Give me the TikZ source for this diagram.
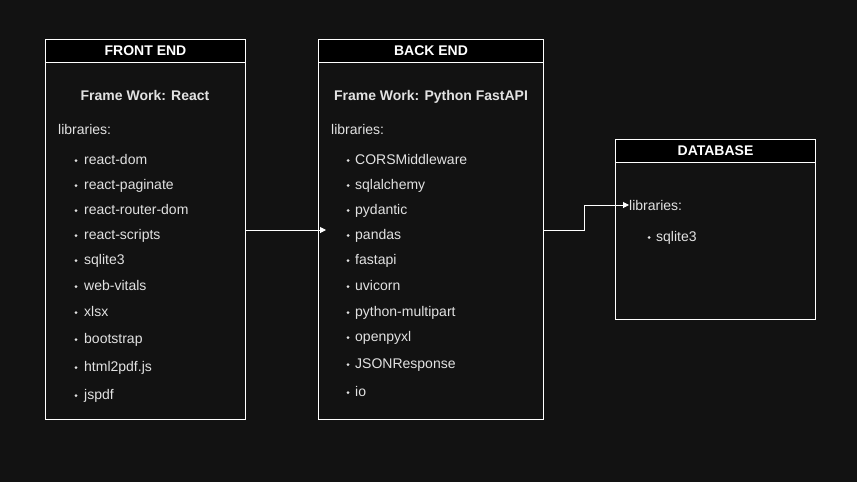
\documentclass[tikz,border=0pt]{standalone}
\usepackage{fontspec}
\setmainfont{Liberation Sans}
\usetikzlibrary{arrows.meta}
\definecolor{bg}{HTML}{121212}
\definecolor{txt}{HTML}{E2E2E2}
\begin{document}
\begin{tikzpicture}[x=1pt,y=-1pt,
  box/.style={draw=white,line width=1pt,fill=bg,inner sep=0,anchor=north west},
  head/.style={draw=white,line width=1pt,fill=black,inner sep=0,anchor=north west,text=white,font=\fontsize{14}{16}\selectfont\bfseries},
  fw/.style={text=txt,font=\fontsize{14}{16}\selectfont\bfseries,text height=11pt,text depth=0pt,inner sep=0},
  lib/.style={text=txt,font=\fontsize{14}{16}\selectfont,anchor=west,inner sep=0,text height=11pt,text depth=0pt},
  item/.style={text=txt,font=\fontsize{14}{16}\selectfont,anchor=west,inner sep=0,text height=11pt,text depth=0pt},
  dot/.style={circle,fill=txt,inner sep=0,minimum size=3pt,yshift=-1.5pt},
  conn/.style={draw=white,line width=1pt,-{Triangle[length=6pt,width=6pt]}}]
\useasboundingbox[fill=bg] (0,0) rectangle (857,482);
% FRONT END
\node[box,minimum width=200,minimum height=380] (fe) at (45,39) {};
\node[head,minimum width=200,minimum height=23] (feh) at (45,39) {FRONT END};
\node[fw] (fefw) at (145,95) {Frame Work: React};
\node[lib] (felib) at (58,129) {libraries:};
\foreach \t/\y [count=\i] in {react-dom/159,react-paginate/184,react-router-dom/209,react-scripts/234,sqlite3/259,web-vitals/285,xlsx/311,bootstrap/338,html2pdf.js/366,jspdf/394}{
  \node[dot] (fed\i) at (76,\y) {};
  \node[item] (fei\i) at (84,\y) {\t};
}
% BACK END
\node[box,minimum width=225,minimum height=380] (be) at (318,39) {};
\node[head,minimum width=225,minimum height=23] (beh) at (318,39) {BACK END};
\node[fw] (befw) at (431,95) {Frame Work: Python FastAPI};
\node[lib] (belib) at (331,129) {libraries:};
\foreach \t/\y [count=\i] in {CORSMiddleware/159,sqlalchemy/184,pydantic/209,pandas/234,fastapi/259,uvicorn/285,python-multipart/311,openpyxl/336,JSONResponse/363,io/391}{
  \node[dot] (bed\i) at (348,\y) {};
  \node[item] (bei\i) at (355,\y) {\t};
}
% DATABASE
\node[box,minimum width=200,minimum height=180] (db) at (615,139) {};
\node[head,minimum width=200,minimum height=23] (dbh) at (615,139) {DATABASE};
\node[lib] (dblib) at (629,205) {libraries:};
\node[dot] (dbd1) at (649,236) {};
\node[item] (dbi1) at (656,236) {sqlite3};
% connectors
\coordinate (a1) at (245,230);
\coordinate (a2) at (326,230);
\draw[conn] (a1) -- (a2);
\coordinate (b1) at (543,230);
\coordinate (b2) at (584,230);
\coordinate (b3) at (584,205);
\draw[conn] (b1) -- (b2) -- (b3) -- (dblib.west);
\end{tikzpicture}
\end{document}
